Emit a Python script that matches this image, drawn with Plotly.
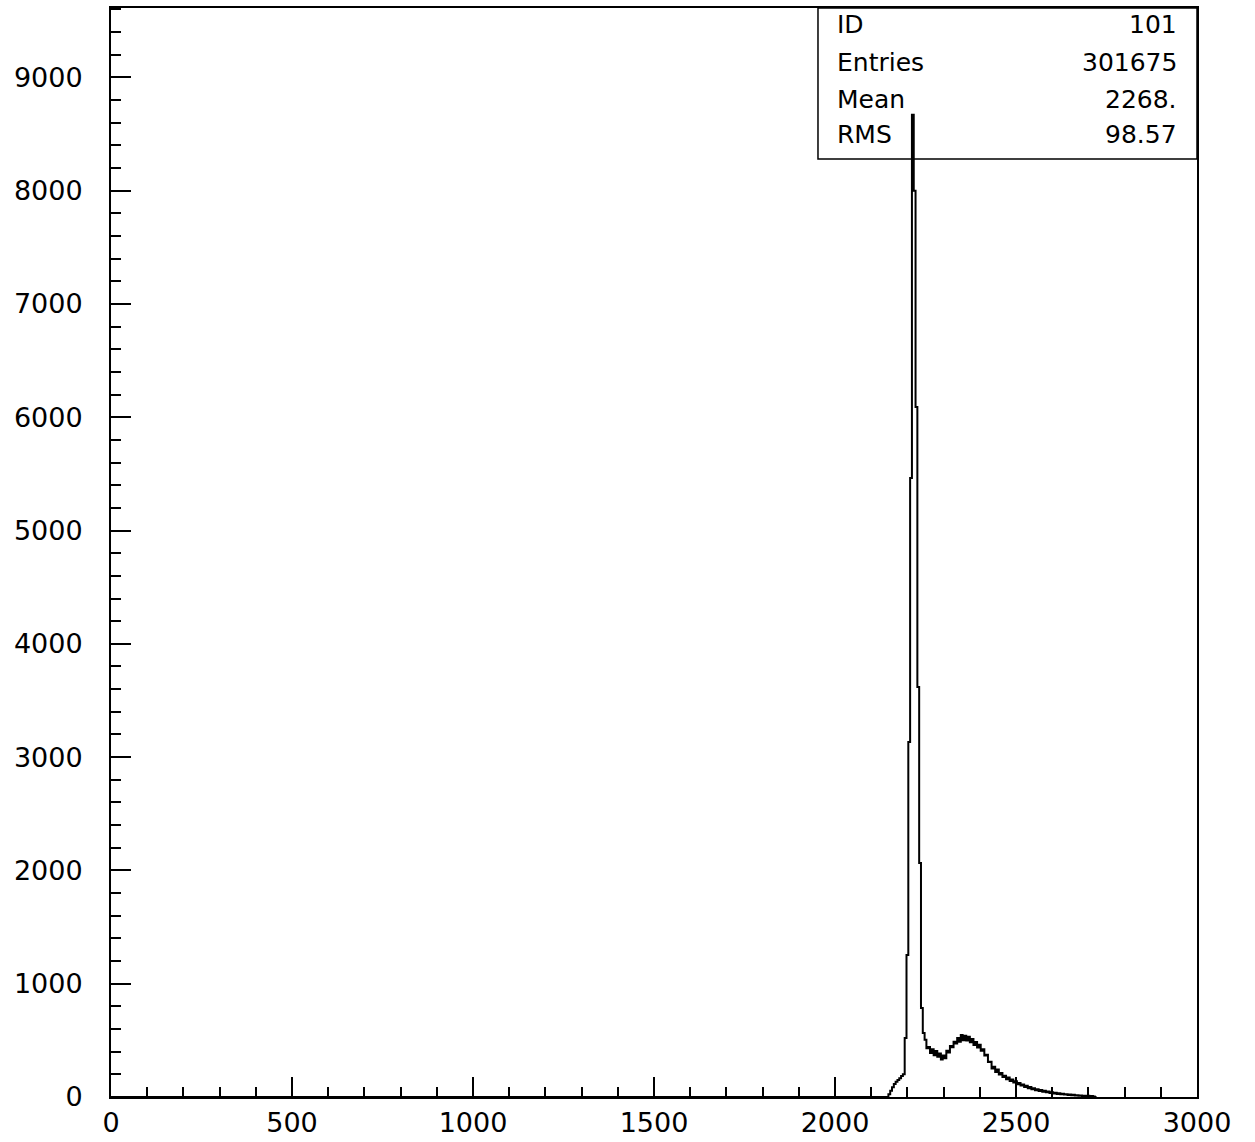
import numpy as np
import plotly.graph_objects as go

# Histogram (ID 101): bin width 5, first bin starts at 2142.5
BIN_START = 2142.5
BIN_WIDTH = 5
counts = [
    0, 25, 55, 85, 115, 135, 150, 165, 185, 200,
    521, 1253, 3133, 5463, 8670, 8000, 6090, 3619, 2065, 785,
    565, 505, 431, 441, 388, 422, 369, 405, 356, 384,
    331, 366, 342, 408, 392, 451, 439, 488, 472, 521,
    487, 548, 502, 541, 499, 532, 484, 511, 458, 486,
    438, 461, 408, 422, 366, 372, 308, 312, 251, 268,
    221, 243, 199, 212, 176, 188, 157, 172, 142, 154,
    127, 139, 113, 124, 101, 110, 89, 99, 78, 88,
    69, 78, 60, 69, 54, 61, 46, 55, 42, 48,
    36, 42, 31, 38, 27, 33, 24, 29, 21, 25,
    18, 22, 15, 19, 13, 16, 11, 14, 9, 12,
    8, 11, 6, 9, 5, 0,
]

stat_labels = ["ID", "Entries", "Mean", "RMS"]
stat_values = ["101", "301675", "2268.", "98.57"]

x_ticks = [0, 500, 1000, 1500, 2000, 2500, 3000]
y_ticks = [0, 1000, 2000, 3000, 4000, 5000, 6000, 7000, 8000, 9000]

edges = BIN_START + BIN_WIDTH * np.arange(len(counts) + 1)
xs = [0.0] + list(edges)
ys = [0] + list(counts) + [counts[-1]]

fig = go.Figure()
fig.add_trace(go.Scatter(
    x=xs, y=ys, mode="lines", line=dict(color="black", width=2, shape="hv"),
    hoverinfo="skip", showlegend=False,
))

FONT = "DejaVu Sans"
fig.update_layout(
    width=1255, height=1142,
    margin=dict(l=111, r=58, t=8, b=45, autoexpand=False),
    paper_bgcolor="white", plot_bgcolor="white",
    font=dict(family=FONT, color="black"),
    showlegend=False,
)
fig.update_xaxes(
    range=[0, 3000], showgrid=False, zeroline=False, automargin=False,
    showline=True, linecolor="black", linewidth=2, mirror=True,
    ticks="inside", ticklen=20, tickwidth=1.5, tickcolor="black",
    tickvals=x_ticks, ticktext=[str(v) for v in x_ticks],
    tickfont=dict(family=FONT, size=27, color="black"),
    ticklabelstandoff=1,
    minor=dict(ticks="inside", ticklen=10, tickwidth=1.5, tickcolor="black", dtick=100, showgrid=False),
)
fig.update_yaxes(
    range=[0, 9612], showgrid=False, zeroline=False, automargin=False,
    showline=True, linecolor="black", linewidth=2, mirror=True,
    ticks="inside", ticklen=20, tickwidth=1.5, tickcolor="black",
    tickvals=y_ticks, ticktext=[str(v) for v in y_ticks],
    tickfont=dict(family=FONT, size=27, color="black"),
    ticklabelstandoff=21,
    minor=dict(ticks="inside", ticklen=10, tickwidth=1.5, tickcolor="black", dtick=200, showgrid=False),
)

# statistics box
fig.add_shape(type="rect", xref="x domain", yref="y domain",
              x0=0.651, x1=1.0, y0=0.8613, y1=1.0,
              line=dict(color="black", width=1.5), fillcolor="rgba(0,0,0,0)", layer="above")
row_y = [0.9844, 0.9495, 0.9164, 0.8834]
for lab, val, yy in zip(stat_labels, stat_values, row_y):
    fig.add_annotation(xref="x domain", yref="y domain", x=0.667, y=yy, text=lab,
                       showarrow=False, xanchor="left", yanchor="middle",
                       font=dict(family=FONT, size=25, color="black"))
    fig.add_annotation(xref="x domain", yref="y domain", x=0.9835, y=yy, text=val,
                       showarrow=False, xanchor="right", yanchor="middle",
                       font=dict(family=FONT, size=25, color="black"))

fig.write_html("out.html")
